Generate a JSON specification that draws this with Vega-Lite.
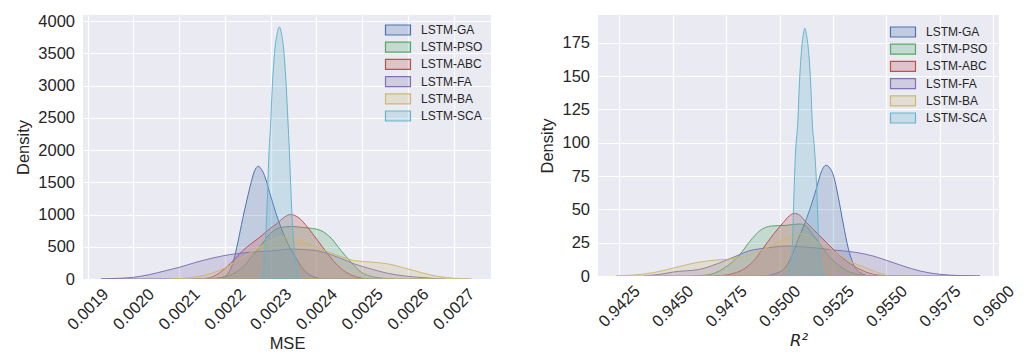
{
  "$schema": "https://vega.github.io/schema/vega-lite/v6.json",
  "background": "white",
  "padding": {"left": 15, "top": 13, "right": 5, "bottom": 0},
  "spacing": 48,
  "datasets": {
    "mse": [
      {"series": "LSTM-GA", "x": 0.002170, "y": 0},
      {"series": "LSTM-GA", "x": 0.002184, "y": 11},
      {"series": "LSTM-GA", "x": 0.002200, "y": 40},
      {"series": "LSTM-GA", "x": 0.002210, "y": 120},
      {"series": "LSTM-GA", "x": 0.002218, "y": 260},
      {"series": "LSTM-GA", "x": 0.002228, "y": 560},
      {"series": "LSTM-GA", "x": 0.002239, "y": 940},
      {"series": "LSTM-GA", "x": 0.0022486, "y": 1242},
      {"series": "LSTM-GA", "x": 0.0022574, "y": 1501},
      {"series": "LSTM-GA", "x": 0.002265, "y": 1680},
      {"series": "LSTM-GA", "x": 0.0022727, "y": 1749},
      {"series": "LSTM-GA", "x": 0.002280, "y": 1700},
      {"series": "LSTM-GA", "x": 0.0022866, "y": 1605},
      {"series": "LSTM-GA", "x": 0.0022976, "y": 1346},
      {"series": "LSTM-GA", "x": 0.0023158, "y": 931},
      {"series": "LSTM-GA", "x": 0.002338, "y": 543},
      {"series": "LSTM-GA", "x": 0.002352, "y": 370},
      {"series": "LSTM-GA", "x": 0.002360, "y": 270},
      {"series": "LSTM-GA", "x": 0.002374, "y": 130},
      {"series": "LSTM-GA", "x": 0.002392, "y": 40},
      {"series": "LSTM-GA", "x": 0.002405, "y": 12},
      {"series": "LSTM-GA", "x": 0.002415, "y": 0},

      {"series": "LSTM-PSO", "x": 0.002163, "y": 0},
      {"series": "LSTM-PSO", "x": 0.002190, "y": 20},
      {"series": "LSTM-PSO", "x": 0.002217, "y": 78},
      {"series": "LSTM-PSO", "x": 0.002246, "y": 233},
      {"series": "LSTM-PSO", "x": 0.002260, "y": 360},
      {"series": "LSTM-PSO", "x": 0.002276, "y": 492},
      {"series": "LSTM-PSO", "x": 0.002298, "y": 698},
      {"series": "LSTM-PSO", "x": 0.002320, "y": 795},
      {"series": "LSTM-PSO", "x": 0.002345, "y": 815},
      {"series": "LSTM-PSO", "x": 0.002370, "y": 800},
      {"series": "LSTM-PSO", "x": 0.002385, "y": 790},
      {"series": "LSTM-PSO", "x": 0.002410, "y": 751},
      {"series": "LSTM-PSO", "x": 0.002432, "y": 635},
      {"series": "LSTM-PSO", "x": 0.002454, "y": 440},
      {"series": "LSTM-PSO", "x": 0.002476, "y": 260},
      {"series": "LSTM-PSO", "x": 0.002498, "y": 105},
      {"series": "LSTM-PSO", "x": 0.002520, "y": 40},
      {"series": "LSTM-PSO", "x": 0.002549, "y": 10},
      {"series": "LSTM-PSO", "x": 0.002571, "y": 0},

      {"series": "LSTM-ABC", "x": 0.002130, "y": 0},
      {"series": "LSTM-ABC", "x": 0.002155, "y": 8},
      {"series": "LSTM-ABC", "x": 0.002174, "y": 37},
      {"series": "LSTM-ABC", "x": 0.002203, "y": 181},
      {"series": "LSTM-ABC", "x": 0.002220, "y": 300},
      {"series": "LSTM-ABC", "x": 0.002239, "y": 440},
      {"series": "LSTM-ABC", "x": 0.002256, "y": 540},
      {"series": "LSTM-ABC", "x": 0.002276, "y": 647},
      {"series": "LSTM-ABC", "x": 0.002300, "y": 790},
      {"series": "LSTM-ABC", "x": 0.002314, "y": 860},
      {"series": "LSTM-ABC", "x": 0.002330, "y": 960},
      {"series": "LSTM-ABC", "x": 0.0023435, "y": 1000},
      {"series": "LSTM-ABC", "x": 0.002360, "y": 957},
      {"series": "LSTM-ABC", "x": 0.002381, "y": 802},
      {"series": "LSTM-ABC", "x": 0.002403, "y": 596},
      {"series": "LSTM-ABC", "x": 0.002425, "y": 388},
      {"series": "LSTM-ABC", "x": 0.002447, "y": 208},
      {"series": "LSTM-ABC", "x": 0.002469, "y": 88},
      {"series": "LSTM-ABC", "x": 0.002491, "y": 26},
      {"series": "LSTM-ABC", "x": 0.002505, "y": 8},
      {"series": "LSTM-ABC", "x": 0.002520, "y": 0},

      {"series": "LSTM-FA", "x": 0.001929, "y": 0},
      {"series": "LSTM-FA", "x": 0.001969, "y": 11},
      {"series": "LSTM-FA", "x": 0.002000, "y": 26},
      {"series": "LSTM-FA", "x": 0.002035, "y": 68},
      {"series": "LSTM-FA", "x": 0.002071, "y": 130},
      {"series": "LSTM-FA", "x": 0.002100, "y": 181},
      {"series": "LSTM-FA", "x": 0.002137, "y": 259},
      {"series": "LSTM-FA", "x": 0.002174, "y": 326},
      {"series": "LSTM-FA", "x": 0.002210, "y": 378},
      {"series": "LSTM-FA", "x": 0.002254, "y": 414},
      {"series": "LSTM-FA", "x": 0.002319, "y": 445},
      {"series": "LSTM-FA", "x": 0.002340, "y": 464},
      {"series": "LSTM-FA", "x": 0.002400, "y": 440},
      {"series": "LSTM-FA", "x": 0.002447, "y": 337},
      {"series": "LSTM-FA", "x": 0.0024834, "y": 233},
      {"series": "LSTM-FA", "x": 0.002520, "y": 155},
      {"series": "LSTM-FA", "x": 0.002556, "y": 88},
      {"series": "LSTM-FA", "x": 0.002593, "y": 47},
      {"series": "LSTM-FA", "x": 0.002644, "y": 16},
      {"series": "LSTM-FA", "x": 0.002680, "y": 0},

      {"series": "LSTM-BA", "x": 0.002079, "y": 0},
      {"series": "LSTM-BA", "x": 0.002130, "y": 26},
      {"series": "LSTM-BA", "x": 0.002166, "y": 78},
      {"series": "LSTM-BA", "x": 0.002203, "y": 181},
      {"series": "LSTM-BA", "x": 0.002239, "y": 337},
      {"series": "LSTM-BA", "x": 0.002276, "y": 492},
      {"series": "LSTM-BA", "x": 0.002300, "y": 590},
      {"series": "LSTM-BA", "x": 0.002323, "y": 655},
      {"series": "LSTM-BA", "x": 0.0023376, "y": 647},
      {"series": "LSTM-BA", "x": 0.002374, "y": 570},
      {"series": "LSTM-BA", "x": 0.0024105, "y": 466},
      {"series": "LSTM-BA", "x": 0.002447, "y": 363},
      {"series": "LSTM-BA", "x": 0.0024834, "y": 285},
      {"series": "LSTM-BA", "x": 0.002520, "y": 262},
      {"series": "LSTM-BA", "x": 0.002556, "y": 235},
      {"series": "LSTM-BA", "x": 0.002593, "y": 170},
      {"series": "LSTM-BA", "x": 0.002629, "y": 100},
      {"series": "LSTM-BA", "x": 0.002666, "y": 40},
      {"series": "LSTM-BA", "x": 0.002702, "y": 12},
      {"series": "LSTM-BA", "x": 0.002739, "y": 0},

      {"series": "LSTM-SCA", "x": 0.002275, "y": 0},
      {"series": "LSTM-SCA", "x": 0.002280, "y": 40},
      {"series": "LSTM-SCA", "x": 0.002283, "y": 104},
      {"series": "LSTM-SCA", "x": 0.002287, "y": 414},
      {"series": "LSTM-SCA", "x": 0.002292, "y": 1087},
      {"series": "LSTM-SCA", "x": 0.002296, "y": 1900},
      {"series": "LSTM-SCA", "x": 0.002300, "y": 2400},
      {"series": "LSTM-SCA", "x": 0.002303, "y": 2900},
      {"series": "LSTM-SCA", "x": 0.0023085, "y": 3500},
      {"series": "LSTM-SCA", "x": 0.002314, "y": 3800},
      {"series": "LSTM-SCA", "x": 0.002319, "y": 3910},
      {"series": "LSTM-SCA", "x": 0.002324, "y": 3800},
      {"series": "LSTM-SCA", "x": 0.002329, "y": 3519},
      {"series": "LSTM-SCA", "x": 0.002334, "y": 3002},
      {"series": "LSTM-SCA", "x": 0.0023376, "y": 2483},
      {"series": "LSTM-SCA", "x": 0.002341, "y": 1966},
      {"series": "LSTM-SCA", "x": 0.002346, "y": 1087},
      {"series": "LSTM-SCA", "x": 0.002352, "y": 414},
      {"series": "LSTM-SCA", "x": 0.002358, "y": 104},
      {"series": "LSTM-SCA", "x": 0.002362, "y": 30},
      {"series": "LSTM-SCA", "x": 0.002365, "y": 0}
    ],
    "r2": [
      {"series": "LSTM-GA", "x": 0.94916, "y": 0},
      {"series": "LSTM-GA", "x": 0.94970, "y": 1.3},
      {"series": "LSTM-GA", "x": 0.95025, "y": 6},
      {"series": "LSTM-GA", "x": 0.95056, "y": 15},
      {"series": "LSTM-GA", "x": 0.95087, "y": 27.5},
      {"series": "LSTM-GA", "x": 0.95119, "y": 40},
      {"series": "LSTM-GA", "x": 0.95150, "y": 54},
      {"series": "LSTM-GA", "x": 0.95173, "y": 66},
      {"series": "LSTM-GA", "x": 0.95195, "y": 78},
      {"series": "LSTM-GA", "x": 0.95217, "y": 83},
      {"series": "LSTM-GA", "x": 0.95235, "y": 81},
      {"series": "LSTM-GA", "x": 0.95251, "y": 76},
      {"series": "LSTM-GA", "x": 0.95275, "y": 59},
      {"series": "LSTM-GA", "x": 0.95298, "y": 39},
      {"series": "LSTM-GA", "x": 0.95321, "y": 21},
      {"series": "LSTM-GA", "x": 0.95345, "y": 9},
      {"series": "LSTM-GA", "x": 0.95376, "y": 2.5},
      {"series": "LSTM-GA", "x": 0.95423, "y": 0},

      {"series": "LSTM-PSO", "x": 0.94596, "y": 0},
      {"series": "LSTM-PSO", "x": 0.94670, "y": 1},
      {"series": "LSTM-PSO", "x": 0.94721, "y": 4},
      {"series": "LSTM-PSO", "x": 0.94768, "y": 9},
      {"series": "LSTM-PSO", "x": 0.94814, "y": 16},
      {"series": "LSTM-PSO", "x": 0.94861, "y": 26},
      {"series": "LSTM-PSO", "x": 0.94908, "y": 34},
      {"series": "LSTM-PSO", "x": 0.94963, "y": 37.5},
      {"series": "LSTM-PSO", "x": 0.95030, "y": 38},
      {"series": "LSTM-PSO", "x": 0.95095, "y": 39},
      {"series": "LSTM-PSO", "x": 0.95120, "y": 38},
      {"series": "LSTM-PSO", "x": 0.95142, "y": 34},
      {"series": "LSTM-PSO", "x": 0.95189, "y": 24},
      {"series": "LSTM-PSO", "x": 0.95236, "y": 14},
      {"series": "LSTM-PSO", "x": 0.95282, "y": 7.5},
      {"series": "LSTM-PSO", "x": 0.95329, "y": 3},
      {"series": "LSTM-PSO", "x": 0.95370, "y": 1},
      {"series": "LSTM-PSO", "x": 0.95438, "y": 0},

      {"series": "LSTM-ABC", "x": 0.94697, "y": 0},
      {"series": "LSTM-ABC", "x": 0.94768, "y": 1.3},
      {"series": "LSTM-ABC", "x": 0.94830, "y": 5},
      {"series": "LSTM-ABC", "x": 0.94877, "y": 11},
      {"series": "LSTM-ABC", "x": 0.94924, "y": 21},
      {"series": "LSTM-ABC", "x": 0.94970, "y": 31},
      {"series": "LSTM-ABC", "x": 0.95017, "y": 40},
      {"series": "LSTM-ABC", "x": 0.95045, "y": 45},
      {"series": "LSTM-ABC", "x": 0.95069, "y": 47},
      {"series": "LSTM-ABC", "x": 0.95095, "y": 45.5},
      {"series": "LSTM-ABC", "x": 0.95126, "y": 40},
      {"series": "LSTM-ABC", "x": 0.95189, "y": 30},
      {"series": "LSTM-ABC", "x": 0.95251, "y": 20},
      {"series": "LSTM-ABC", "x": 0.95314, "y": 11},
      {"series": "LSTM-ABC", "x": 0.95376, "y": 5},
      {"series": "LSTM-ABC", "x": 0.95438, "y": 1.3},
      {"series": "LSTM-ABC", "x": 0.95511, "y": 0},

      {"series": "LSTM-FA", "x": 0.94365, "y": 0},
      {"series": "LSTM-FA", "x": 0.94450, "y": 1.5},
      {"series": "LSTM-FA", "x": 0.94503, "y": 3},
      {"series": "LSTM-FA", "x": 0.94627, "y": 5},
      {"series": "LSTM-FA", "x": 0.94705, "y": 9},
      {"series": "LSTM-FA", "x": 0.94783, "y": 14},
      {"series": "LSTM-FA", "x": 0.94861, "y": 19},
      {"series": "LSTM-FA", "x": 0.94939, "y": 21},
      {"series": "LSTM-FA", "x": 0.95033, "y": 22.5},
      {"series": "LSTM-FA", "x": 0.95100, "y": 22},
      {"series": "LSTM-FA", "x": 0.95173, "y": 21},
      {"series": "LSTM-FA", "x": 0.95251, "y": 19.5},
      {"series": "LSTM-FA", "x": 0.95345, "y": 18},
      {"series": "LSTM-FA", "x": 0.95437, "y": 15},
      {"series": "LSTM-FA", "x": 0.95500, "y": 11.75},
      {"series": "LSTM-FA", "x": 0.95578, "y": 7.5},
      {"series": "LSTM-FA", "x": 0.95657, "y": 3.75},
      {"series": "LSTM-FA", "x": 0.95750, "y": 1.25},
      {"series": "LSTM-FA", "x": 0.95850, "y": 0.3},
      {"series": "LSTM-FA", "x": 0.95937, "y": 0},

      {"series": "LSTM-BA", "x": 0.94237, "y": 0},
      {"series": "LSTM-BA", "x": 0.94320, "y": 0.8},
      {"series": "LSTM-BA", "x": 0.94410, "y": 2.5},
      {"series": "LSTM-BA", "x": 0.94503, "y": 6},
      {"series": "LSTM-BA", "x": 0.94627, "y": 10.5},
      {"series": "LSTM-BA", "x": 0.94705, "y": 12},
      {"series": "LSTM-BA", "x": 0.94783, "y": 13},
      {"series": "LSTM-BA", "x": 0.94861, "y": 16},
      {"series": "LSTM-BA", "x": 0.94939, "y": 21},
      {"series": "LSTM-BA", "x": 0.95017, "y": 27.5},
      {"series": "LSTM-BA", "x": 0.95060, "y": 30.5},
      {"series": "LSTM-BA", "x": 0.95103, "y": 31.75},
      {"series": "LSTM-BA", "x": 0.95135, "y": 30},
      {"series": "LSTM-BA", "x": 0.95173, "y": 26},
      {"series": "LSTM-BA", "x": 0.95251, "y": 19},
      {"series": "LSTM-BA", "x": 0.95329, "y": 11},
      {"series": "LSTM-BA", "x": 0.95407, "y": 6},
      {"series": "LSTM-BA", "x": 0.95460, "y": 2.5},
      {"series": "LSTM-BA", "x": 0.95510, "y": 0},

      {"series": "LSTM-SCA", "x": 0.95025, "y": 0},
      {"series": "LSTM-SCA", "x": 0.95040, "y": 1.5},
      {"series": "LSTM-SCA", "x": 0.95048, "y": 6.25},
      {"series": "LSTM-SCA", "x": 0.95059, "y": 18.75},
      {"series": "LSTM-SCA", "x": 0.95064, "y": 43.75},
      {"series": "LSTM-SCA", "x": 0.95069, "y": 68.75},
      {"series": "LSTM-SCA", "x": 0.95075, "y": 93.75},
      {"series": "LSTM-SCA", "x": 0.950856, "y": 116},
      {"series": "LSTM-SCA", "x": 0.950919, "y": 141},
      {"series": "LSTM-SCA", "x": 0.951012, "y": 166},
      {"series": "LSTM-SCA", "x": 0.95110, "y": 180},
      {"series": "LSTM-SCA", "x": 0.951184, "y": 185.75},
      {"series": "LSTM-SCA", "x": 0.95127, "y": 180},
      {"series": "LSTM-SCA", "x": 0.951371, "y": 166},
      {"series": "LSTM-SCA", "x": 0.951465, "y": 141},
      {"series": "LSTM-SCA", "x": 0.951527, "y": 116},
      {"series": "LSTM-SCA", "x": 0.951636, "y": 95},
      {"series": "LSTM-SCA", "x": 0.95173, "y": 68.75},
      {"series": "LSTM-SCA", "x": 0.95179, "y": 43.75},
      {"series": "LSTM-SCA", "x": 0.95184, "y": 18.75},
      {"series": "LSTM-SCA", "x": 0.95192, "y": 6.25},
      {"series": "LSTM-SCA", "x": 0.95200, "y": 1.5},
      {"series": "LSTM-SCA", "x": 0.95212, "y": 0}
    ]
  },
  "hconcat": [
    {
      "width": 408,
      "height": 264,
      "data": {"name": "mse"},
      "mark": {"type": "area", "interpolate": "monotone", "fillOpacity": 0.25, "strokeOpacity": 1, "strokeWidth": 1, "clip": true},
      "encoding": {
        "x": {
          "field": "x", "type": "quantitative",
          "scale": {"domain": [0.0018897, 0.0027818], "nice": false, "zero": false},
          "axis": {
            "title": "MSE",
            "values": [0.0019, 0.002, 0.0021, 0.0022, 0.0023, 0.0024, 0.0025, 0.0026, 0.0027],
            "format": ".4f",
            "labelAngle": -45, "labelAlign": "center", "labelBaseline": "middle",
            "labelPadding": 30, "labelOverlap": false, "labelFlush": false, "titlePadding": 3
          }
        },
        "y": {
          "field": "y", "type": "quantitative", "stack": null,
          "scale": {"domain": [0, 4097], "nice": false},
          "axis": {"title": "Density", "values": [0, 500, 1000, 1500, 2000, 2500, 3000, 3500, 4000], "format": "d", "labelPadding": 8.5, "titlePadding": 6}
        },
        "fill": {
          "field": "series", "type": "nominal",
          "scale": {"domain": ["LSTM-GA", "LSTM-PSO", "LSTM-ABC", "LSTM-FA", "LSTM-BA", "LSTM-SCA"], "range": ["#4C72B0", "#55A868", "#C44E52", "#8172B2", "#CCB974", "#64B5CD"]},
          "legend": {"offset": 8.5, "encode": {"symbols": {"update": {"fillOpacity": {"value": 0.25}, "strokeOpacity": {"value": 1}, "opacity": {"value": 1}}}}}
        },
        "stroke": {
          "field": "series", "type": "nominal",
          "scale": {"domain": ["LSTM-GA", "LSTM-PSO", "LSTM-ABC", "LSTM-FA", "LSTM-BA", "LSTM-SCA"], "range": ["#4C72B0", "#55A868", "#C44E52", "#8172B2", "#CCB974", "#64B5CD"]},
          "legend": {"offset": 8.5, "encode": {"symbols": {"update": {"fillOpacity": {"value": 0.25}, "strokeOpacity": {"value": 1}, "opacity": {"value": 1}}}}}
        }
      }
    },
    {
      "width": 401,
      "height": 261,
      "data": {"name": "r2"},
      "mark": {"type": "area", "interpolate": "monotone", "fillOpacity": 0.25, "strokeOpacity": 1, "strokeWidth": 1, "clip": true},
      "encoding": {
        "x": {
          "field": "x", "type": "quantitative",
          "scale": {"domain": [0.94151, 0.960263], "nice": false, "zero": false},
          "axis": {
            "title": "R²", "titleFont": "DejaVu Sans", "titleFontStyle": "italic", "titleFontSize": 16.5,
            "values": [0.9425, 0.945, 0.9475, 0.95, 0.9525, 0.955, 0.9575, 0.96],
            "format": ".4f",
            "labelAngle": -45, "labelAlign": "center", "labelBaseline": "middle",
            "labelPadding": 30, "labelOverlap": false, "labelFlush": false, "titlePadding": 3
          }
        },
        "y": {
          "field": "y", "type": "quantitative", "stack": null,
          "scale": {"domain": [0, 195.75], "nice": false},
          "axis": {"title": "Density", "values": [0, 25, 50, 75, 100, 125, 150, 175], "format": "d", "labelPadding": 8.5, "titlePadding": 6}
        },
        "fill": {
          "field": "series", "type": "nominal",
          "scale": {"domain": ["LSTM-GA", "LSTM-PSO", "LSTM-ABC", "LSTM-FA", "LSTM-BA", "LSTM-SCA"], "range": ["#4C72B0", "#55A868", "#C44E52", "#8172B2", "#CCB974", "#64B5CD"]},
          "legend": {"offset": 11, "encode": {"symbols": {"update": {"fillOpacity": {"value": 0.25}, "strokeOpacity": {"value": 1}, "opacity": {"value": 1}}}}}
        },
        "stroke": {
          "field": "series", "type": "nominal",
          "scale": {"domain": ["LSTM-GA", "LSTM-PSO", "LSTM-ABC", "LSTM-FA", "LSTM-BA", "LSTM-SCA"], "range": ["#4C72B0", "#55A868", "#C44E52", "#8172B2", "#CCB974", "#64B5CD"]},
          "legend": {"offset": 11, "encode": {"symbols": {"update": {"fillOpacity": {"value": 0.25}, "strokeOpacity": {"value": 1}, "opacity": {"value": 1}}}}}
        }
      }
    }
  ],
  "resolve": {"legend": {"fill": "independent", "stroke": "independent"}},
  "config": {
    "font": "Liberation Sans",
    "view": {"fill": "#EAEAF2", "stroke": null},
    "axis": {
      "grid": true, "gridColor": "#FFFFFF", "gridWidth": 1.2, "gridOpacity": 1,
      "domain": false, "ticks": false, "tickSize": 0,
      "labelFont": "Liberation Sans", "labelFontSize": 16.5, "labelColor": "#262626",
      "titleFont": "Liberation Sans", "titleFontSize": 16.5, "titleFontWeight": "normal", "titleColor": "#262626"
    },
    "legend": {
      "orient": "top-right", "offset": 8.5, "padding": 0, "title": null,
      "labelFont": "Liberation Sans", "labelFontSize": 12, "labelColor": "#262626",
      "symbolType": "M-2.5,-1H2.5V1H-2.5Z", "symbolSize": 100, "symbolStrokeWidth": 1.2,
      "labelOffset": 17, "rowPadding": 1.2
    }
  }
}
